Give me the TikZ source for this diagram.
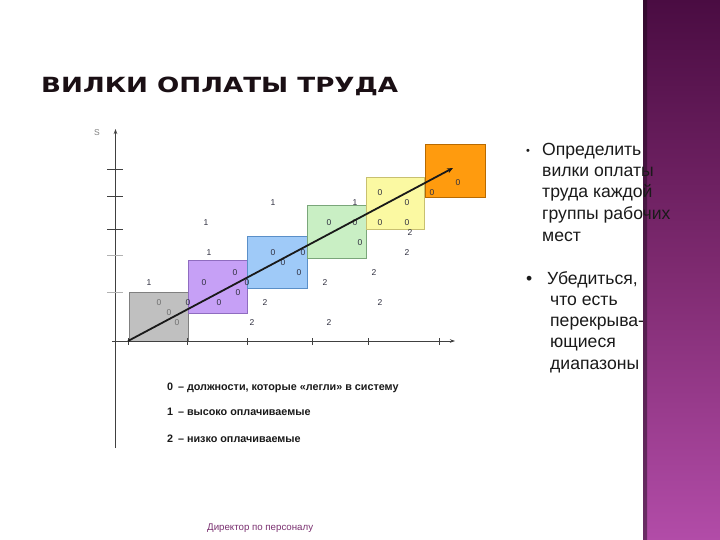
\documentclass[tikz,border=0pt]{standalone}
\usepackage{fontspec}
\usepackage{graphicx}
\setmainfont{Liberation Sans}
\newfontfamily\titlefont{DejaVu Sans}
\usetikzlibrary{arrows.meta}
\definecolor{sidetop}{HTML}{4A0C42}
\definecolor{sidemid}{HTML}{7E2A70}
\definecolor{sidebot}{HTML}{B24CA8}
\definecolor{txt}{HTML}{1A1A1A}
\definecolor{dig}{HTML}{303040}
\definecolor{diggray}{HTML}{707070}
\definecolor{axisc}{HTML}{404040}
\definecolor{grayF}{HTML}{C0C0C0}\definecolor{grayD}{HTML}{808080}
\definecolor{purF}{HTML}{C6A0F6}\definecolor{purD}{HTML}{8F6CC0}
\definecolor{bluF}{HTML}{9FCAF8}\definecolor{bluD}{HTML}{5A8FC8}
\definecolor{grnF}{HTML}{C9EFC4}\definecolor{grnD}{HTML}{7AA67A}
\definecolor{yelF}{HTML}{FBF9A2}\definecolor{yelD}{HTML}{C8C070}
\definecolor{orgF}{HTML}{FF9B0E}\definecolor{orgD}{HTML}{B86A00}
\definecolor{footc}{HTML}{7A3070}
\tikzset{
  digit/.style={inner sep=0pt, font=\fontsize{8.5}{9}\selectfont, text=dig},
  gdigit/.style={digit, text=diggray},
  bul/.style={anchor=base west, inner sep=0pt, font=\fontsize{17.6}{19}\selectfont, text=txt},
  leg/.style={anchor=base west, inner sep=0pt, font=\fontsize{10.8}{12}\selectfont\bfseries, text=txt},
  axisline/.style={draw=axisc, line width=0.8pt},
  tickdark/.style={draw=axisc, line width=0.8pt},
  ticklight/.style={draw=gray!60, line width=0.8pt},
  rng/.style={line width=0.8pt},
  trend/.style={line width=1.8pt, draw=black!90, -{Stealth[length=6pt,width=5pt]}}
}
\newcommand{\dg}[3]{\node[digit] at (#1,#2) {#3};}
\newcommand{\gdg}[3]{\node[gdigit] at (#1,#2) {#3};}
\begin{document}
\begin{tikzpicture}[x=1pt,y=-1pt]
\useasboundingbox (0,0) rectangle (720,540);
\fill[white] (0,0) rectangle (720,540);
% sidebar
\shade[top color=sidetop, bottom color=sidebot, middle color=sidemid] (643,0) rectangle (720,540);
\shade[top color=sidetop!70!black, bottom color=sidebot!60!black] (643,0) rectangle (647,540);
% title
\node[anchor=base west, inner sep=0pt, text={rgb,255:red,26;green,15;blue,20}] (title) at (41,93)
  {\resizebox{357pt}{15.5pt}{\titlefont\bfseries ВИЛКИ ОПЛАТЫ ТРУДА}};
% range boxes
\filldraw[rng, fill=grayF, draw=grayD] (129,292) rectangle (188,341);
\filldraw[rng, fill=purF, draw=purD] (188,260) rectangle (247,313);
\filldraw[rng, fill=bluF, draw=bluD] (247,236) rectangle (307,288);
\filldraw[rng, fill=grnF, draw=grnD] (307,205) rectangle (366,258);
\filldraw[rng, fill=yelF, draw=yelD] (366,177) rectangle (424,229);
\filldraw[rng, fill=orgF, draw=orgD] (425,144) rectangle (485,197);
% axes
\coordinate (yb) at (115.5,448);
\coordinate (yt) at (115.5,129);
\coordinate (xl) at (112,341);
\coordinate (xr) at (455,341);
\draw[axisline, -{Stealth[length=5pt,width=3.5pt]}] (yb) -- (yt);
\draw[axisline, -{Stealth[length=5pt,width=3.5pt]}] (xl) -- (xr);
\node[inner sep=0pt, font=\fontsize{8.5}{9}\selectfont, text=gray] (S) at (97,133) {S};
\foreach \yy in {169,196,229} \draw[tickdark] (107,\yy) -- (123,\yy);
\foreach \yy in {255,292} \draw[ticklight] (107,\yy) -- (123,\yy);
\foreach \xx in {128,187,247,312,368,439} \draw[tickdark] (\xx,338) -- (\xx,345);
% digits
\dg{149}{283}{1}
\gdg{159}{303}{0}
\gdg{169}{313}{0}
\gdg{177}{323}{0}
\dg{188}{303}{0}
\dg{209}{253}{1}
\dg{206}{223}{1}
\dg{273}{203}{1}
\dg{204}{283}{0}
\dg{235}{273}{0}
\dg{247}{283}{0}
\dg{238}{293}{0}
\dg{219}{303}{0}
\dg{265}{303}{2}
\dg{252}{323}{2}
\dg{273}{253}{0}
\dg{283}{263}{0}
\dg{303}{253}{0}
\dg{299}{273}{0}
\dg{325}{283}{2}
\dg{329}{323}{2}
\dg{329}{223}{0}
\dg{355}{223}{0}
\dg{355}{203}{1}
\dg{360}{243}{0}
\dg{374}{273}{2}
\dg{380}{303}{2}
\dg{380}{193}{0}
\dg{407}{203}{0}
\dg{380}{223}{0}
\dg{407}{223}{0}
\dg{410}{233}{2}
\dg{407}{253}{2}
\dg{432}{193}{0}
\dg{458}{183}{0}
% trend arrow
\coordinate (tstart) at (128,341);
\coordinate (tend) at (453,168);
\draw[trend] (tstart) -- (tend);
% legend
\node[leg] (l0) at (167,390) {0 \,– должности, которые «легли» в систему};
\node[leg] (l1) at (167,415) {1 \,– высоко оплачиваемые};
\node[leg] (l2) at (167,442) {2 \,– низко оплачиваемые};
% bullets
\node[bul, font=\fontsize{11}{13}\selectfont] (b1) at (526,155) {•};
\node[bul] (t11) at (542,156) {Определить};
\node[bul] (t12) at (542,177) {вилки оплаты};
\node[bul] (t13) at (542,198) {труда каждой};
\node[bul] (t14) at (542,220) {группы рабочих};
\node[bul] (t15) at (542,241) {мест};
\node[bul] (b2) at (526,284) {•};
\node[bul] (t21) at (547,284) {Убедиться,};
\node[bul] (t22) at (550,305) {что есть};
\node[bul] (t23) at (550,326) {перекрыва-};
\node[bul] (t24) at (550,347) {ющиеся};
\node[bul] (t25) at (550,369) {диапазоны};
% footer
\node[anchor=base west, inner sep=0pt, font=\fontsize{9.7}{10}\selectfont, text=footc] (foot) at (207,530) {Директор по персоналу};
\end{tikzpicture}
\end{document}
